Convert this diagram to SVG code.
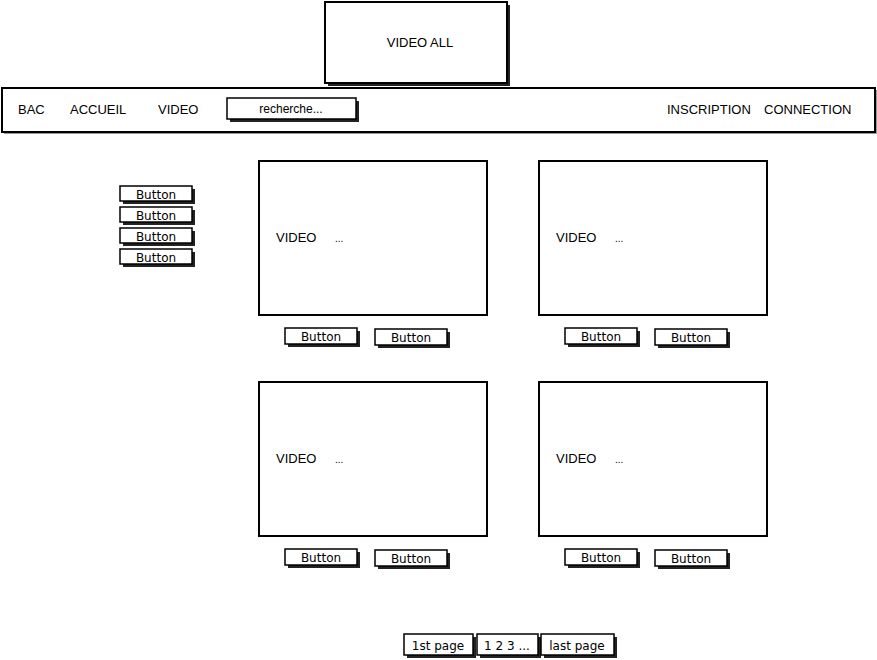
<svg xmlns="http://www.w3.org/2000/svg" width="877" height="660" viewBox="0 0 877 660">
<style>
.box{fill:#fff;stroke:#000;stroke-width:2}
.sh{fill:#222}
.lsh{fill:#999}
.t{font-family:"Liberation Sans",Arial,sans-serif;font-size:13px;fill:#000}
.bt{font-family:"DejaVu Sans","Liberation Sans",sans-serif;font-size:12px;fill:#000;text-anchor:middle}
.btn{fill:#fff;stroke:#000;stroke-width:1.5}
.dots{font-size:10px}
</style>
<rect width="877" height="660" fill="#fff"/>
<g id="title">
<rect class="sh" x="328" y="5" width="182" height="81"/>
<rect class="box" x="325" y="2" width="182" height="81"/>
<text class="t" x="420" y="47" text-anchor="middle">VIDEO ALL</text>
</g>
<g id="navbar">
<rect class="lsh" x="4" y="90" width="873" height="44"/>
<rect class="box" x="2" y="88" width="873" height="44"/>
<text class="t" x="18" y="114">BAC</text>
<text class="t" x="70" y="114">ACCUEIL</text>
<text class="t" x="158" y="114">VIDEO</text>
<text class="t" x="667" y="114">INSCRIPTION</text>
<text class="t" x="764" y="114">CONNECTION</text>
</g>
<g id="search">
<rect class="sh" x="230" y="101" width="129" height="21"/>
<rect class="btn" x="227" y="98" width="129" height="21"/>
<text class="t" x="291" y="113" text-anchor="middle" style="font-size:12px">recherche...</text>
</g>
<g id="sidebuttons">
<rect class="sh" x="123" y="189" width="72" height="15"/><rect class="btn" x="120" y="186" width="72" height="15"/><text class="bt" x="156" y="199">Button</text>
<rect class="sh" x="123" y="210" width="72" height="15"/><rect class="btn" x="120" y="207" width="72" height="15"/><text class="bt" x="156" y="220">Button</text>
<rect class="sh" x="123" y="231" width="72" height="15"/><rect class="btn" x="120" y="228" width="72" height="15"/><text class="bt" x="156" y="241">Button</text>
<rect class="sh" x="123" y="252" width="72" height="15"/><rect class="btn" x="120" y="249" width="72" height="15"/><text class="bt" x="156" y="262">Button</text>
</g>
<g id="video1">
<rect class="box" x="259" y="161" width="228" height="154"/>
<text class="t" x="276" y="242">VIDEO</text><text class="t dots" x="335" y="242">...</text>
<rect class="sh" x="288" y="331" width="72" height="16"/><rect class="btn" x="285" y="328" width="72" height="16"/><text class="bt" x="321" y="341">Button</text>
<rect class="sh" x="378" y="332" width="72" height="16"/><rect class="btn" x="375" y="329" width="72" height="16"/><text class="bt" x="411" y="342">Button</text>
</g>
<g id="video2">
<rect class="box" x="539" y="161" width="228" height="154"/>
<text class="t" x="556" y="242">VIDEO</text><text class="t dots" x="615" y="242">...</text>
<rect class="sh" x="568" y="331" width="72" height="16"/><rect class="btn" x="565" y="328" width="72" height="16"/><text class="bt" x="601" y="341">Button</text>
<rect class="sh" x="658" y="332" width="72" height="16"/><rect class="btn" x="655" y="329" width="72" height="16"/><text class="bt" x="691" y="342">Button</text>
</g>
<g id="video3">
<rect class="box" x="259" y="382" width="228" height="154"/>
<text class="t" x="276" y="463">VIDEO</text><text class="t dots" x="335" y="463">...</text>
<rect class="sh" x="288" y="552" width="72" height="16"/><rect class="btn" x="285" y="549" width="72" height="16"/><text class="bt" x="321" y="562">Button</text>
<rect class="sh" x="378" y="553" width="72" height="16"/><rect class="btn" x="375" y="550" width="72" height="16"/><text class="bt" x="411" y="563">Button</text>
</g>
<g id="video4">
<rect class="box" x="539" y="382" width="228" height="154"/>
<text class="t" x="556" y="463">VIDEO</text><text class="t dots" x="615" y="463">...</text>
<rect class="sh" x="568" y="552" width="72" height="16"/><rect class="btn" x="565" y="549" width="72" height="16"/><text class="bt" x="601" y="562">Button</text>
<rect class="sh" x="658" y="553" width="72" height="16"/><rect class="btn" x="655" y="550" width="72" height="16"/><text class="bt" x="691" y="563">Button</text>
</g>
<g id="pagination">
<rect class="sh" x="407" y="637" width="69" height="21"/><rect class="btn" x="404" y="634" width="69" height="21"/><text class="bt" x="438" y="650">1st page</text>
<rect class="sh" x="480" y="637" width="61" height="21"/><rect class="btn" x="477" y="634" width="61" height="21"/><text class="bt" x="507" y="650">1 2 3 ...</text>
<rect class="sh" x="544" y="637" width="73" height="21"/><rect class="btn" x="541" y="634" width="73" height="21"/><text class="bt" x="577" y="650">last page</text>
</g>
<g id="connectors"/>
</svg>
